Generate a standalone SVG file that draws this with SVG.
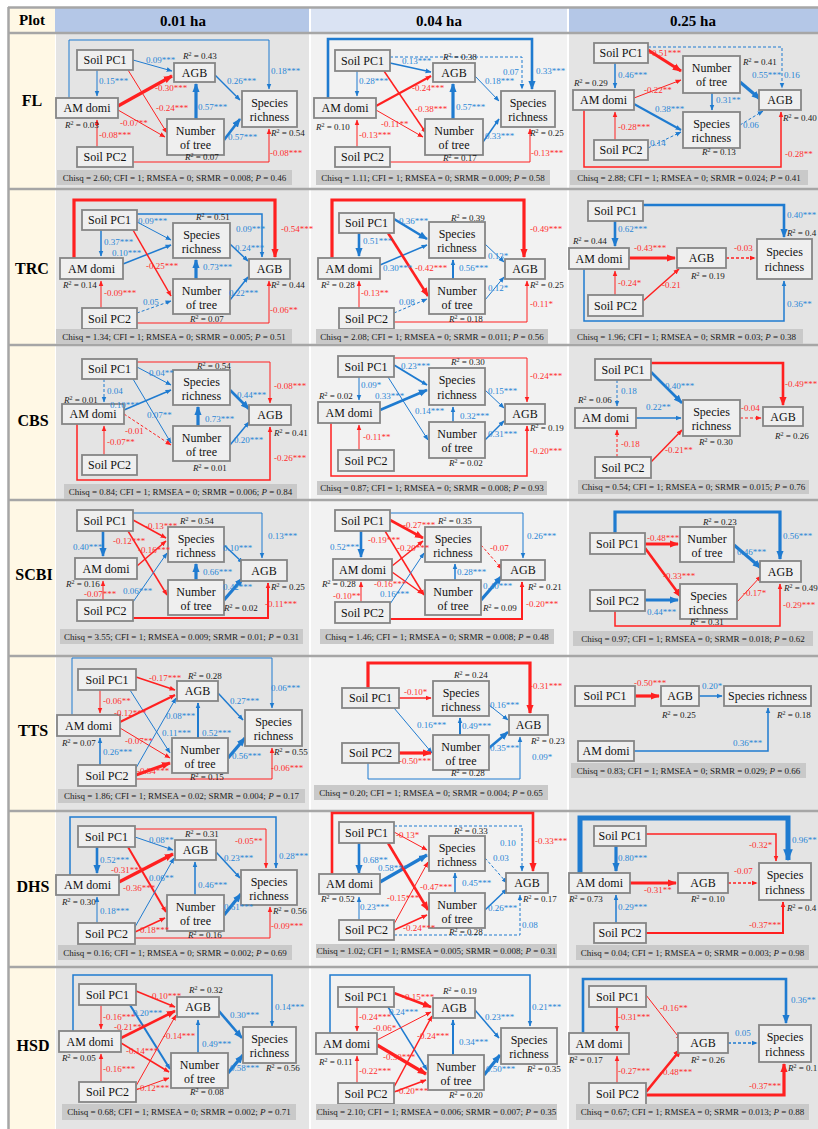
<svg xmlns="http://www.w3.org/2000/svg" width="818" height="1129" viewBox="0 0 818 1129">
<defs>
<style>
text{font-family:"Liberation Serif","Times New Roman",serif}
.bx{fill:#EFEFEF;stroke:#858585;stroke-width:1.8}
.nt{font-size:12px;text-anchor:middle;fill:#111}
.lb{font-size:9px}
.b{fill:#2A86D6}.r{fill:#FF2E2E}
.rs{font-size:9px;fill:#1a1a1a}
.cqb{fill:#C9C9C9}
.cq{font-size:9px;text-anchor:middle;fill:#1a1a1a}
.i{font-style:italic}.sp{font-size:6px}
.eb{fill:none;stroke:#1F7BD0;marker-end:url(#ab)}
.er{fill:none;stroke:#FF2020;marker-end:url(#ar)}
.eb.L{marker-end:url(#abL)}.er.L{marker-end:url(#arL)}.eb.X{marker-end:url(#abX)}
.d{stroke-dasharray:3 2}
.w1{stroke-width:1}.w15{stroke-width:1.5}.w2{stroke-width:2}.w25{stroke-width:2.6}.w3{stroke-width:3.2}.w5{stroke-width:5}
.hd{font-size:15px;font-weight:bold;text-anchor:middle;fill:#000}
.rl{font-size:16px;font-weight:bold;text-anchor:middle;fill:#000}
.sep{stroke:#A6A6A6;stroke-width:2.5}
</style>
<marker id="ab" viewBox="0 0 10 10" refX="9" refY="5" markerWidth="6" markerHeight="6" markerUnits="userSpaceOnUse" orient="auto"><path d="M0,1L10,5L0,9z" fill="#1F7BD0"/></marker>
<marker id="ar" viewBox="0 0 10 10" refX="9" refY="5" markerWidth="6" markerHeight="6" markerUnits="userSpaceOnUse" orient="auto"><path d="M0,1L10,5L0,9z" fill="#FF2020"/></marker>
<marker id="abL" viewBox="0 0 10 10" refX="9" refY="5" markerWidth="9" markerHeight="9" markerUnits="userSpaceOnUse" orient="auto"><path d="M0,1L10,5L0,9z" fill="#1F7BD0"/></marker>
<marker id="arL" viewBox="0 0 10 10" refX="9" refY="5" markerWidth="9" markerHeight="9" markerUnits="userSpaceOnUse" orient="auto"><path d="M0,1L10,5L0,9z" fill="#FF2020"/></marker>
<marker id="abX" viewBox="0 0 10 10" refX="9" refY="5" markerWidth="12" markerHeight="12" markerUnits="userSpaceOnUse" orient="auto"><path d="M0,1L10,5L0,9z" fill="#1F7BD0"/></marker>
</defs>

<g id="background">
<rect x="0" y="0" width="818" height="1129" fill="#FFFFFF"/>
<rect x="9" y="8" width="46" height="25" fill="#FFF8E5"/>
<rect x="55" y="8" width="254" height="25" fill="#B4C7E7"/>
<rect x="311" y="8" width="256" height="25" fill="#DAE3F3"/>
<rect x="569" y="8" width="249" height="25" fill="#B4C7E7"/>
<rect x="9" y="33" width="46" height="1096" fill="#FFF8E5"/>
<rect x="56" y="33" width="253" height="1096" fill="#E4E4E4"/>
<rect x="311" y="33" width="256" height="1096" fill="#F2F2F2"/>
<rect x="569" y="33" width="249" height="1096" fill="#E4E4E4"/>
<line class="sep" x1="8" y1="7.5" x2="818" y2="7.5"/>
<line class="sep" x1="8.5" y1="7" x2="8.5" y2="1129"/>
<line class="sep" x1="8" y1="33" x2="818" y2="33"/>
<line class="sep" x1="8" y1="189" x2="818" y2="189"/>
<line class="sep" x1="8" y1="345" x2="818" y2="345"/>
<line class="sep" x1="8" y1="500" x2="818" y2="500"/>
<line class="sep" x1="8" y1="656" x2="818" y2="656"/>
<line class="sep" x1="8" y1="811" x2="818" y2="811"/>
<line class="sep" x1="8" y1="967" x2="818" y2="967"/>
</g>

<g id="header">
<text class="hd" x="32" y="25">Plot</text>
<text class="hd" x="183" y="26">0.01 ha</text>
<text class="hd" x="439" y="26">0.04 ha</text>
<text class="hd" x="693" y="26">0.25 ha</text>
</g>

<g id="row-labels">
<text class="rl" x="32" y="106">FL</text>
<text class="rl" x="32" y="274">TRC</text>
<text class="rl" x="33" y="426">CBS</text>
<text class="rl" x="34" y="580">SCBI</text>
<text class="rl" x="33" y="736">TTS</text>
<text class="rl" x="33" y="892">DHS</text>
<text class="rl" x="33" y="1051">HSD</text>
</g>

<g id="connectors">
<g id="c-FL1">
<path class="eb w1" d="M69,98V40H269V89"/>
<path class="eb w1" d="M133,60L172,71"/>
<path class="eb w1" d="M97,70V96"/>
<path class="er w1" d="M128,70L167,133"/>
<path class="er w3 L" d="M118,106L172,76"/>
<path class="er w1" d="M118,110L165,137"/>
<path class="eb w3 L" d="M196,119V84"/>
<path class="eb w15" d="M215,75L240,100"/>
<path class="eb w25 L" d="M224,140L240,119"/>
<path class="er w1" d="M97,147V120"/>
<path class="er w1" d="M133,162H269V129"/>
</g>
<g id="c-FL2">
<path class="eb w25 L" d="M328,98V39H532V89"/>
<path class="eb w1 d" d="M390,57H522V89"/>
<path class="eb w15" d="M390,63L431,72"/>
<path class="eb w1" d="M357,71V96"/>
<path class="er w15" d="M384,71L426,133"/>
<path class="er w2" d="M376,106L431,76"/>
<path class="er w1" d="M376,110L423,137"/>
<path class="eb w3 L" d="M453,119V84"/>
<path class="eb w1" d="M475,76L499,101"/>
<path class="eb w15" d="M483,142L499,119"/>
<path class="er w1" d="M357,147V120"/>
<path class="er w1" d="M390,162H530V129"/>
</g>
<g id="c-FL3">
<path class="eb w1 d" d="M648,47H782V88"/>
<path class="er w3 L" d="M648,50L681,71"/>
<path class="eb w15" d="M615,63V88"/>
<path class="er w1" d="M634,98L681,80"/>
<path class="eb w2" d="M634,104L681,130"/>
<path class="eb w3 L" d="M740,82L760,99"/>
<path class="eb w15" d="M712,93V110"/>
<path class="eb w1 d" d="M740,125L763,111"/>
<path class="er w1" d="M615,140V112"/>
<path class="eb w1 d" d="M648,148L681,132"/>
<path class="er w15" d="M584,110V167H781V112"/>
</g>
<g id="c-TRC1">
<path class="er w3 L" d="M74,258V200H275V257"/>
<path class="eb w15" d="M137,214H262V257"/>
<path class="eb w1" d="M137,222L171,240"/>
<path class="eb w15" d="M101,230V256"/>
<path class="eb w15" d="M123,264L171,245"/>
<path class="er w15" d="M133,230L171,296"/>
<path class="eb w3 L" d="M196,279V260"/>
<path class="eb w15" d="M230,244L248,261"/>
<path class="eb w15" d="M230,300L248,277"/>
<path class="er w1" d="M101,308V281"/>
<path class="eb w1 d" d="M137,313L171,301"/>
<path class="er w1" d="M137,323H269V281"/>
</g>
<g id="c-TRC2">
<path class="er w3 L" d="M332,258V200H524V257"/>
<path class="eb w25 L" d="M394,219L427,239"/>
<path class="eb w25 L" d="M359,233V256"/>
<path class="eb w15" d="M380,265L427,245"/>
<path class="er w25 L" d="M388,233L428,296"/>
<path class="eb w2" d="M453,279V260"/>
<path class="eb w1" d="M485,244L504,262"/>
<path class="eb w1" d="M485,300L504,277"/>
<path class="er w1" d="M359,308V281"/>
<path class="eb w1 d" d="M394,313L427,299"/>
<path class="er w1" d="M394,322H527V281"/>
</g>
<g id="c-TRC3">
<path class="eb w25 L" d="M643,205H784V237"/>
<path class="eb w25 L" d="M615,221V246"/>
<path class="er w3 L" d="M629,258H675"/>
<path class="er w15 d" d="M726,258H755"/>
<path class="er w1" d="M615,295V271"/>
<path class="er w15" d="M643,301L679,269"/>
<path class="eb w15" d="M584,269V321H784V281"/>
</g>
<g id="c-CBS1">
<path class="er w1" d="M137,362H270V403"/>
<path class="eb w1" d="M137,367L171,385"/>
<path class="eb w1 d" d="M104,379V402"/>
<path class="eb w15" d="M124,410L171,390"/>
<path class="eb w1" d="M133,379L171,443"/>
<path class="er w1 d" d="M124,414L171,445"/>
<path class="eb w3 L" d="M198,426V407"/>
<path class="eb w25 L" d="M230,390L249,409"/>
<path class="eb w15" d="M230,445L249,422"/>
<path class="er w1" d="M104,455V426"/>
<path class="er w15" d="M77,424V480H270V427"/>
</g>
<g id="c-CBS2">
<path class="er w1" d="M394,358H527V402"/>
<path class="eb w2" d="M394,365L427,385"/>
<path class="eb w1" d="M359,377V400"/>
<path class="eb w25 L" d="M380,410L427,390"/>
<path class="eb w1" d="M388,377L428,440"/>
<path class="eb w15" d="M453,422V407"/>
<path class="eb w1" d="M485,390L504,408"/>
<path class="eb w15" d="M485,440L504,421"/>
<path class="er w1" d="M359,450V425"/>
<path class="er w15" d="M331,423V476H527V426"/>
</g>
<g id="c-CBS3">
<path class="er w25 L" d="M651,363H783V405"/>
<path class="eb w25 L" d="M651,372L682,403"/>
<path class="eb w1 d" d="M617,380V406"/>
<path class="eb w15" d="M636,418H681"/>
<path class="er w1 d" d="M740,418H761"/>
<path class="er w1 d" d="M617,457V430"/>
<path class="er w15" d="M651,462L682,430"/>
</g>
<g id="c-SCBI1">
<path class="eb w1" d="M133,513H262V558"/>
<path class="er w15" d="M133,520L166,538"/>
<path class="er w15" d="M128,531L167,595"/>
<path class="eb w25 L" d="M103,531V556"/>
<path class="er w15" d="M137,566L166,541"/>
<path class="eb w1" d="M133,602L167,553"/>
<path class="eb w3 L" d="M196,580V564"/>
<path class="eb w15" d="M224,545L243,563"/>
<path class="eb w3 L" d="M224,600L243,578"/>
<path class="er w1" d="M103,600V581"/>
<path class="er w2" d="M133,618H268V583"/>
</g>
<g id="c-SCBI2">
<path class="eb w1" d="M390,513H523V558"/>
<path class="er w25 L" d="M390,520L423,538"/>
<path class="er w15" d="M385,531L424,595"/>
<path class="eb w25 L" d="M361,531V557"/>
<path class="er w15" d="M392,566L423,541"/>
<path class="er w15" d="M392,572L423,594"/>
<path class="eb w1" d="M390,604L424,553"/>
<path class="eb w15" d="M455,580V564"/>
<path class="er w1 d" d="M481,545L502,569"/>
<path class="eb w3 L" d="M481,600L502,576"/>
<path class="er w1" d="M361,602V582"/>
<path class="er w2" d="M390,619H522V582"/>
</g>
<g id="c-SCBI3">
<path class="eb w3 L" d="M615,533V512H780V559"/>
<path class="er w3 L" d="M645,544H678"/>
<path class="er w25 L" d="M645,548L681,597"/>
<path class="eb w3 L" d="M645,600H678"/>
<path class="eb w3 L" d="M734,545L761,568"/>
<path class="er w1" d="M737,602L761,576"/>
<path class="er w15" d="M615,611V626H780V584"/>
</g>
<g id="c-TTS1">
<path class="eb w1" d="M72,715V658H272V708"/>
<path class="er w15" d="M136,677L175,690"/>
<path class="er w1" d="M100,690V713"/>
<path class="eb w1" d="M130,690L170,753"/>
<path class="er w2" d="M120,722L175,695"/>
<path class="er w1" d="M120,728L170,758"/>
<path class="eb w1" d="M136,768L176,698"/>
<path class="er w3 L" d="M136,775L170,763"/>
<path class="eb w2" d="M198,738V703"/>
<path class="eb w15" d="M218,693L243,720"/>
<path class="eb w3 L" d="M228,758L245,738"/>
<path class="eb w15" d="M100,765V738"/>
<path class="er w1" d="M136,779H272V748"/>
</g>
<g id="c-TTS2">
<path class="er w3 L" d="M368,688V663H530V713"/>
<path class="er w15" d="M399,698H431"/>
<path class="eb w1" d="M394,708L432,753"/>
<path class="eb w2" d="M460,735V718"/>
<path class="eb w1" d="M489,705L508,720"/>
<path class="eb w25 L" d="M489,748L508,732"/>
<path class="er w3 L" d="M399,753H431"/>
<path class="eb w1" d="M368,763V779H520V737"/>
</g>
<g id="c-TTS3">
<path class="er w3 L" d="M635,696H659"/>
<path class="eb w15" d="M699,696H722"/>
<path class="eb w15" d="M634,751H768V708"/>
</g>
<g id="c-DHS1">
<path class="eb w15" d="M70,875V817H276V868"/>
<path class="er w1" d="M135,829H266V868"/>
<path class="eb w1" d="M135,837L173,850"/>
<path class="eb w25 L" d="M97,847V873"/>
<path class="er w2" d="M128,847L166,912"/>
<path class="er w3 L" d="M119,882L173,854"/>
<path class="eb w1" d="M135,927L174,858"/>
<path class="eb w15" d="M195,895V862"/>
<path class="eb w15" d="M216,852L240,878"/>
<path class="eb w3 L" d="M224,915L241,894"/>
<path class="eb w1" d="M97,923V897"/>
<path class="er w15" d="M135,932L165,918"/>
<path class="er w1" d="M135,938H270V907"/>
</g>
<g id="c-DHS2">
<path class="er w25 L" d="M332,875V813H533V871"/>
<path class="eb w1 d" d="M394,826H522V871"/>
<path class="er w1" d="M394,832L427,850"/>
<path class="eb w25 L" d="M359,843V873"/>
<path class="eb w3 L" d="M380,882L427,855"/>
<path class="er w25 L" d="M388,843L428,910"/>
<path class="er w1" d="M394,924L428,862"/>
<path class="er w15" d="M394,930L427,915"/>
<path class="eb w15" d="M455,893V873"/>
<path class="eb w1 d" d="M485,858L507,883"/>
<path class="eb w15" d="M485,910L507,889"/>
<path class="eb w1" d="M359,921V897"/>
<path class="eb w1 d" d="M394,935H520V895"/>
</g>
<g id="c-DHS3">
<path class="eb w5 X" d="M580,873V818H788V860"/>
<path class="er w15" d="M646,834H776V861"/>
<path class="eb w3 L" d="M616,846V871"/>
<path class="er w3 L" d="M630,883H676"/>
<path class="er w15 d" d="M728,883H757"/>
<path class="eb w15" d="M616,923V895"/>
<path class="er w2" d="M646,933H783V902"/>
</g>
<g id="c-HSD1">
<path class="eb w15" d="M73,1031V975H272V1026"/>
<path class="er w15" d="M136,991L175,1007"/>
<path class="er w1" d="M101,1005V1029"/>
<path class="eb w2" d="M130,1005L170,1069"/>
<path class="er w25 L" d="M121,1038L175,1011"/>
<path class="er w15" d="M121,1043L169,1072"/>
<path class="er w1" d="M136,1086L176,1015"/>
<path class="er w1" d="M136,1090L169,1078"/>
<path class="eb w15" d="M198,1053V1020"/>
<path class="eb w25 L" d="M218,1010L242,1038"/>
<path class="eb w3 L" d="M228,1073L243,1055"/>
<path class="er w1" d="M101,1082V1054"/>
</g>
<g id="c-HSD2">
<path class="eb w15" d="M330,1033V975H530V1026"/>
<path class="er w25 L" d="M394,993L431,1007"/>
<path class="er w1" d="M357,1007V1031"/>
<path class="eb w15" d="M388,1007L427,1070"/>
<path class="er w1" d="M377,1040L431,1012"/>
<path class="er w3 L" d="M377,1045L426,1074"/>
<path class="er w15" d="M394,1087L432,1016"/>
<path class="er w15" d="M394,1092L426,1080"/>
<path class="eb w2" d="M453,1055V1020"/>
<path class="eb w15" d="M475,1010L499,1038"/>
<path class="eb w3 L" d="M484,1075L500,1055"/>
<path class="er w1" d="M357,1083V1056"/>
</g>
<g id="c-HSD3">
<path class="eb w25 L" d="M583,1033V979H786V1023"/>
<path class="er w15" d="M617,1007V1031"/>
<path class="er w1" d="M646,995L681,1040"/>
<path class="eb w15 d" d="M728,1043H757"/>
<path class="er w1" d="M617,1083V1056"/>
<path class="er w25 L" d="M646,1092L681,1049"/>
<path class="er w3 L" d="M646,1095H784V1064"/>
</g>
</g>

<g id="nodes">
<g id="FL1-PC1"><rect class="bx" x="77" y="50" width="56" height="20"/><text class="nt" x="105" y="64">Soil PC1</text></g>
<g id="FL1-AGB"><rect class="bx" x="174" y="63" width="41" height="19"/><text class="nt" x="194.5" y="76.5">AGB</text></g>
<g id="FL1-AMD"><rect class="bx" x="56" y="98" width="62" height="20"/><text class="nt" x="87" y="112">AM domi</text></g>
<g id="FL1-SR"><rect class="bx" x="242" y="91" width="55" height="36"/><text class="nt" x="269.5" y="107">Species</text><text class="nt" x="269.5" y="121">richness</text></g>
<g id="FL1-NT"><rect class="bx" x="167" y="119" width="57" height="36"/><text class="nt" x="195.5" y="135">Number</text><text class="nt" x="195.5" y="149">of tree</text></g>
<g id="FL1-PC2"><rect class="bx" x="77" y="147" width="56" height="20"/><text class="nt" x="105" y="161">Soil PC2</text></g>

<g id="FL2-PC1"><rect class="bx" x="335" y="50" width="55" height="21"/><text class="nt" x="362.5" y="64.5">Soil PC1</text></g>
<g id="FL2-AGB"><rect class="bx" x="433" y="63" width="42" height="19"/><text class="nt" x="454" y="76.5">AGB</text></g>
<g id="FL2-AMD"><rect class="bx" x="314" y="98" width="62" height="20"/><text class="nt" x="345" y="112">AM domi</text></g>
<g id="FL2-SR"><rect class="bx" x="501" y="91" width="54" height="36"/><text class="nt" x="528" y="107">Species</text><text class="nt" x="528" y="121">richness</text></g>
<g id="FL2-NT"><rect class="bx" x="425" y="119" width="58" height="36"/><text class="nt" x="454" y="135">Number</text><text class="nt" x="454" y="149">of tree</text></g>
<g id="FL2-PC2"><rect class="bx" x="335" y="147" width="55" height="20"/><text class="nt" x="362.5" y="161">Soil PC2</text></g>

<g id="FL3-PC1"><rect class="bx" x="594" y="43" width="54" height="20"/><text class="nt" x="621" y="57">Soil PC1</text></g>
<g id="FL3-NT"><rect class="bx" x="683" y="56" width="57" height="37"/><text class="nt" x="711.5" y="72">Number</text><text class="nt" x="711.5" y="86">of tree</text></g>
<g id="FL3-AMD"><rect class="bx" x="573" y="90" width="61" height="20"/><text class="nt" x="603.5" y="104">AM domi</text></g>
<g id="FL3-AGB"><rect class="bx" x="759" y="90" width="42" height="20"/><text class="nt" x="780" y="104">AGB</text></g>
<g id="FL3-SR"><rect class="bx" x="683" y="112" width="57" height="36"/><text class="nt" x="711.5" y="128">Species</text><text class="nt" x="711.5" y="142">richness</text></g>
<g id="FL3-PC2"><rect class="bx" x="594" y="140" width="54" height="20"/><text class="nt" x="621" y="154">Soil PC2</text></g>

<g id="TRC1-PC1"><rect class="bx" x="82" y="210" width="55" height="20"/><text class="nt" x="109.5" y="224">Soil PC1</text></g>
<g id="TRC1-SR"><rect class="bx" x="173" y="223" width="57" height="35"/><text class="nt" x="201.5" y="238.5">Species</text><text class="nt" x="201.5" y="252.5">richness</text></g>
<g id="TRC1-AMD"><rect class="bx" x="60" y="258" width="63" height="21"/><text class="nt" x="91.5" y="272.5">AM domi</text></g>
<g id="TRC1-AGB"><rect class="bx" x="249" y="259" width="41" height="20"/><text class="nt" x="269.5" y="273">AGB</text></g>
<g id="TRC1-NT"><rect class="bx" x="173" y="279" width="57" height="35"/><text class="nt" x="201.5" y="294.5">Number</text><text class="nt" x="201.5" y="308.5">of tree</text></g>
<g id="TRC1-PC2"><rect class="bx" x="82" y="308" width="55" height="21"/><text class="nt" x="109.5" y="322.5">Soil PC2</text></g>

<g id="TRC2-PC1"><rect class="bx" x="339" y="213" width="55" height="20"/><text class="nt" x="366.5" y="227">Soil PC1</text></g>
<g id="TRC2-SR"><rect class="bx" x="429" y="222" width="56" height="36"/><text class="nt" x="457" y="238">Species</text><text class="nt" x="457" y="252">richness</text></g>
<g id="TRC2-AMD"><rect class="bx" x="318" y="258" width="62" height="21"/><text class="nt" x="349" y="272.5">AM domi</text></g>
<g id="TRC2-AGB"><rect class="bx" x="505" y="259" width="40" height="20"/><text class="nt" x="525" y="273">AGB</text></g>
<g id="TRC2-NT"><rect class="bx" x="429" y="279" width="56" height="35"/><text class="nt" x="457" y="294.5">Number</text><text class="nt" x="457" y="308.5">of tree</text></g>
<g id="TRC2-PC2"><rect class="bx" x="339" y="308" width="55" height="21"/><text class="nt" x="366.5" y="322.5">Soil PC2</text></g>

<g id="TRC3-PC1"><rect class="bx" x="588" y="201" width="55" height="20"/><text class="nt" x="615.5" y="215">Soil PC1</text></g>
<g id="TRC3-AMD"><rect class="bx" x="569" y="248" width="60" height="21"/><text class="nt" x="599" y="262.5">AM domi</text></g>
<g id="TRC3-AGB"><rect class="bx" x="677" y="248" width="49" height="20"/><text class="nt" x="701.5" y="262">AGB</text></g>
<g id="TRC3-SR"><rect class="bx" x="757" y="239" width="55" height="40"/><text class="nt" x="784.5" y="256">Species</text><text class="nt" x="784.5" y="271">richness</text></g>
<g id="TRC3-PC2"><rect class="bx" x="588" y="295" width="55" height="21"/><text class="nt" x="615.5" y="309.5">Soil PC2</text></g>

<g id="CBS1-PC1"><rect class="bx" x="82" y="359" width="55" height="20"/><text class="nt" x="109.5" y="373">Soil PC1</text></g>
<g id="CBS1-SR"><rect class="bx" x="173" y="370" width="57" height="35"/><text class="nt" x="201.5" y="385.5">Species</text><text class="nt" x="201.5" y="399.5">richness</text></g>
<g id="CBS1-AMD"><rect class="bx" x="62" y="404" width="62" height="20"/><text class="nt" x="93" y="418">AM domi</text></g>
<g id="CBS1-AGB"><rect class="bx" x="249" y="405" width="42" height="20"/><text class="nt" x="270" y="419">AGB</text></g>
<g id="CBS1-NT"><rect class="bx" x="173" y="426" width="57" height="35"/><text class="nt" x="201.5" y="441.5">Number</text><text class="nt" x="201.5" y="455.5">of tree</text></g>
<g id="CBS1-PC2"><rect class="bx" x="82" y="455" width="55" height="20"/><text class="nt" x="109.5" y="469">Soil PC2</text></g>

<g id="CBS2-PC1"><rect class="bx" x="338" y="356" width="56" height="21"/><text class="nt" x="366" y="370.5">Soil PC1</text></g>
<g id="CBS2-SR"><rect class="bx" x="429" y="368" width="56" height="37"/><text class="nt" x="457" y="384">Species</text><text class="nt" x="457" y="399">richness</text></g>
<g id="CBS2-AMD"><rect class="bx" x="318" y="402" width="62" height="21"/><text class="nt" x="349" y="416.5">AM domi</text></g>
<g id="CBS2-AGB"><rect class="bx" x="505" y="404" width="40" height="20"/><text class="nt" x="525" y="418">AGB</text></g>
<g id="CBS2-NT"><rect class="bx" x="429" y="422" width="56" height="36"/><text class="nt" x="457" y="438">Number</text><text class="nt" x="457" y="452">of tree</text></g>
<g id="CBS2-PC2"><rect class="bx" x="338" y="450" width="56" height="21"/><text class="nt" x="366" y="464.5">Soil PC2</text></g>

<g id="CBS3-PC1"><rect class="bx" x="595" y="359" width="56" height="21"/><text class="nt" x="623" y="373.5">Soil PC1</text></g>
<g id="CBS3-AMD"><rect class="bx" x="575" y="408" width="61" height="20"/><text class="nt" x="605.5" y="422">AM domi</text></g>
<g id="CBS3-SR"><rect class="bx" x="683" y="400" width="57" height="36"/><text class="nt" x="711.5" y="416">Species</text><text class="nt" x="711.5" y="430">richness</text></g>
<g id="CBS3-AGB"><rect class="bx" x="763" y="407" width="40" height="19"/><text class="nt" x="783" y="420.5">AGB</text></g>
<g id="CBS3-PC2"><rect class="bx" x="595" y="457" width="56" height="21"/><text class="nt" x="623" y="471.5">Soil PC2</text></g>

<g id="SCBI1-PC1"><rect class="bx" x="77" y="510" width="56" height="21"/><text class="nt" x="105" y="524.5">Soil PC1</text></g>
<g id="SCBI1-SR"><rect class="bx" x="168" y="527" width="56" height="35"/><text class="nt" x="196" y="542.5">Species</text><text class="nt" x="196" y="556.5">richness</text></g>
<g id="SCBI1-AMD"><rect class="bx" x="75" y="558" width="62" height="21"/><text class="nt" x="106" y="572.5">AM domi</text></g>
<g id="SCBI1-AGB"><rect class="bx" x="241" y="560" width="46" height="21"/><text class="nt" x="264" y="574.5">AGB</text></g>
<g id="SCBI1-NT"><rect class="bx" x="168" y="580" width="56" height="35"/><text class="nt" x="196" y="595.5">Number</text><text class="nt" x="196" y="609.5">of tree</text></g>
<g id="SCBI1-PC2"><rect class="bx" x="77" y="600" width="56" height="21"/><text class="nt" x="105" y="614.5">Soil PC2</text></g>

<g id="SCBI2-PC1"><rect class="bx" x="335" y="510" width="55" height="21"/><text class="nt" x="362.5" y="524.5">Soil PC1</text></g>
<g id="SCBI2-SR"><rect class="bx" x="425" y="527" width="56" height="35"/><text class="nt" x="453" y="542.5">Species</text><text class="nt" x="453" y="556.5">richness</text></g>
<g id="SCBI2-AMD"><rect class="bx" x="333" y="559" width="59" height="21"/><text class="nt" x="362.5" y="573.5">AM domi</text></g>
<g id="SCBI2-AGB"><rect class="bx" x="501" y="560" width="44" height="20"/><text class="nt" x="523" y="574">AGB</text></g>
<g id="SCBI2-NT"><rect class="bx" x="425" y="580" width="56" height="35"/><text class="nt" x="453" y="595.5">Number</text><text class="nt" x="453" y="609.5">of tree</text></g>
<g id="SCBI2-PC2"><rect class="bx" x="335" y="602" width="55" height="21"/><text class="nt" x="362.5" y="616.5">Soil PC2</text></g>

<g id="SCBI3-PC1"><rect class="bx" x="590" y="533" width="55" height="21"/><text class="nt" x="617.5" y="547.5">Soil PC1</text></g>
<g id="SCBI3-NT"><rect class="bx" x="680" y="527" width="54" height="35"/><text class="nt" x="707" y="542.5">Number</text><text class="nt" x="707" y="556.5">of tree</text></g>
<g id="SCBI3-AGB"><rect class="bx" x="760" y="561" width="41" height="21"/><text class="nt" x="780.5" y="575.5">AGB</text></g>
<g id="SCBI3-PC2"><rect class="bx" x="590" y="590" width="55" height="21"/><text class="nt" x="617.5" y="604.5">Soil PC2</text></g>
<g id="SCBI3-SR"><rect class="bx" x="680" y="584" width="57" height="35"/><text class="nt" x="708.5" y="599.5">Species</text><text class="nt" x="708.5" y="613.5">richness</text></g>

<g id="TTS1-PC1"><rect class="bx" x="78" y="669" width="58" height="21"/><text class="nt" x="107" y="683.5">Soil PC1</text></g>
<g id="TTS1-AGB"><rect class="bx" x="177" y="681" width="41" height="20"/><text class="nt" x="197.5" y="695">AGB</text></g>
<g id="TTS1-AMD"><rect class="bx" x="57" y="715" width="63" height="21"/><text class="nt" x="88.5" y="729.5">AM domi</text></g>
<g id="TTS1-SR"><rect class="bx" x="245" y="710" width="57" height="36"/><text class="nt" x="273.5" y="726">Species</text><text class="nt" x="273.5" y="740">richness</text></g>
<g id="TTS1-NT"><rect class="bx" x="172" y="738" width="56" height="35"/><text class="nt" x="200" y="753.5">Number</text><text class="nt" x="200" y="767.5">of tree</text></g>
<g id="TTS1-PC2"><rect class="bx" x="78" y="765" width="58" height="21"/><text class="nt" x="107" y="779.5">Soil PC2</text></g>

<g id="TTS2-PC1"><rect class="bx" x="342" y="688" width="57" height="20"/><text class="nt" x="370.5" y="702">Soil PC1</text></g>
<g id="TTS2-SR"><rect class="bx" x="433" y="681" width="56" height="35"/><text class="nt" x="461" y="696.5">Species</text><text class="nt" x="461" y="710.5">richness</text></g>
<g id="TTS2-AGB"><rect class="bx" x="509" y="715" width="39" height="20"/><text class="nt" x="528.5" y="729">AGB</text></g>
<g id="TTS2-PC2"><rect class="bx" x="342" y="743" width="57" height="20"/><text class="nt" x="370.5" y="757">Soil PC2</text></g>
<g id="TTS2-NT"><rect class="bx" x="433" y="735" width="56" height="35"/><text class="nt" x="461" y="750.5">Number</text><text class="nt" x="461" y="764.5">of tree</text></g>

<g id="TTS3-PC1"><rect class="bx" x="575" y="686" width="60" height="20"/><text class="nt" x="605" y="700">Soil PC1</text></g>
<g id="TTS3-AGB"><rect class="bx" x="661" y="686" width="38" height="20"/><text class="nt" x="680" y="700">AGB</text></g>
<g id="TTS3-SR"><rect class="bx" x="724" y="686" width="87" height="20"/><text class="nt" x="767.5" y="700">Species richness</text></g>
<g id="TTS3-AMD"><rect class="bx" x="578" y="741" width="56" height="20"/><text class="nt" x="606" y="755">AM domi</text></g>

<g id="DHS1-PC1"><rect class="bx" x="78" y="826" width="57" height="21"/><text class="nt" x="106.5" y="840.5">Soil PC1</text></g>
<g id="DHS1-AGB"><rect class="bx" x="175" y="840" width="41" height="20"/><text class="nt" x="195.5" y="854">AGB</text></g>
<g id="DHS1-AMD"><rect class="bx" x="56" y="875" width="63" height="20"/><text class="nt" x="87.5" y="889">AM domi</text></g>
<g id="DHS1-SR"><rect class="bx" x="241" y="870" width="56" height="35"/><text class="nt" x="269" y="885.5">Species</text><text class="nt" x="269" y="899.5">richness</text></g>
<g id="DHS1-NT"><rect class="bx" x="167" y="895" width="57" height="36"/><text class="nt" x="195.5" y="911">Number</text><text class="nt" x="195.5" y="925">of tree</text></g>
<g id="DHS1-PC2"><rect class="bx" x="78" y="923" width="57" height="21"/><text class="nt" x="106.5" y="937.5">Soil PC2</text></g>

<g id="DHS2-PC1"><rect class="bx" x="339" y="822" width="55" height="21"/><text class="nt" x="366.5" y="836.5">Soil PC1</text></g>
<g id="DHS2-SR"><rect class="bx" x="429" y="836" width="56" height="35"/><text class="nt" x="457" y="851.5">Species</text><text class="nt" x="457" y="865.5">richness</text></g>
<g id="DHS2-AMD"><rect class="bx" x="319" y="874" width="61" height="20"/><text class="nt" x="349.5" y="888">AM domi</text></g>
<g id="DHS2-AGB"><rect class="bx" x="506" y="873" width="42" height="20"/><text class="nt" x="527" y="887">AGB</text></g>
<g id="DHS2-NT"><rect class="bx" x="429" y="893" width="56" height="35"/><text class="nt" x="457" y="908.5">Number</text><text class="nt" x="457" y="922.5">of tree</text></g>
<g id="DHS2-PC2"><rect class="bx" x="339" y="920" width="55" height="20"/><text class="nt" x="366.5" y="934">Soil PC2</text></g>

<g id="DHS3-PC1"><rect class="bx" x="594" y="826" width="52" height="20"/><text class="nt" x="620" y="840">Soil PC1</text></g>
<g id="DHS3-AMD"><rect class="bx" x="569" y="873" width="61" height="20"/><text class="nt" x="599.5" y="887">AM domi</text></g>
<g id="DHS3-AGB"><rect class="bx" x="678" y="873" width="50" height="20"/><text class="nt" x="703" y="887">AGB</text></g>
<g id="DHS3-SR"><rect class="bx" x="759" y="863" width="52" height="37"/><text class="nt" x="785" y="879">Species</text><text class="nt" x="785" y="894">richness</text></g>
<g id="DHS3-PC2"><rect class="bx" x="594" y="923" width="52" height="20"/><text class="nt" x="620" y="937">Soil PC2</text></g>

<g id="HSD1-PC1"><rect class="bx" x="79" y="984" width="57" height="21"/><text class="nt" x="107.5" y="998.5">Soil PC1</text></g>
<g id="HSD1-AGB"><rect class="bx" x="177" y="997" width="42" height="20"/><text class="nt" x="198" y="1011">AGB</text></g>
<g id="HSD1-AMD"><rect class="bx" x="59" y="1031" width="62" height="21"/><text class="nt" x="90" y="1045.5">AM domi</text></g>
<g id="HSD1-SR"><rect class="bx" x="243" y="1027" width="53" height="36"/><text class="nt" x="269.5" y="1043">Species</text><text class="nt" x="269.5" y="1057">richness</text></g>
<g id="HSD1-NT"><rect class="bx" x="171" y="1053" width="57" height="35"/><text class="nt" x="199.5" y="1068.5">Number</text><text class="nt" x="199.5" y="1082.5">of tree</text></g>
<g id="HSD1-PC2"><rect class="bx" x="79" y="1082" width="57" height="20"/><text class="nt" x="107.5" y="1096">Soil PC2</text></g>

<g id="HSD2-PC1"><rect class="bx" x="338" y="987" width="56" height="20"/><text class="nt" x="366" y="1001">Soil PC1</text></g>
<g id="HSD2-AGB"><rect class="bx" x="433" y="998" width="42" height="20"/><text class="nt" x="454" y="1012">AGB</text></g>
<g id="HSD2-AMD"><rect class="bx" x="316" y="1033" width="61" height="21"/><text class="nt" x="346.5" y="1047.5">AM domi</text></g>
<g id="HSD2-SR"><rect class="bx" x="501" y="1028" width="56" height="36"/><text class="nt" x="529" y="1044">Species</text><text class="nt" x="529" y="1058">richness</text></g>
<g id="HSD2-NT"><rect class="bx" x="428" y="1055" width="56" height="35"/><text class="nt" x="456" y="1070.5">Number</text><text class="nt" x="456" y="1084.5">of tree</text></g>
<g id="HSD2-PC2"><rect class="bx" x="338" y="1083" width="56" height="21"/><text class="nt" x="366" y="1097.5">Soil PC2</text></g>

<g id="HSD3-PC1"><rect class="bx" x="589" y="986" width="57" height="21"/><text class="nt" x="617.5" y="1000.5">Soil PC1</text></g>
<g id="HSD3-AMD"><rect class="bx" x="569" y="1033" width="60" height="21"/><text class="nt" x="599" y="1047.5">AM domi</text></g>
<g id="HSD3-AGB"><rect class="bx" x="678" y="1033" width="50" height="20"/><text class="nt" x="703" y="1047">AGB</text></g>
<g id="HSD3-SR"><rect class="bx" x="759" y="1025" width="52" height="37"/><text class="nt" x="785" y="1041">Species</text><text class="nt" x="785" y="1056">richness</text></g>
<g id="HSD3-PC2"><rect class="bx" x="589" y="1083" width="57" height="22"/><text class="nt" x="617.5" y="1098">Soil PC2</text></g>
</g>

<g id="edge-labels">
<text class="lb b" x="271" y="74">0.18***</text><text class="lb b" x="146" y="63">0.09***</text><text class="lb b" x="99" y="84">0.15***</text><text class="lb r" x="156" y="111">-0.24***</text><text class="lb r" x="155" y="91">-0.30***</text><text class="lb r" x="120" y="126">-0.07**</text><text class="lb b" x="198" y="110">0.57***</text><text class="lb b" x="227" y="84">0.26***</text><text class="lb b" x="228" y="140">0.57***</text><text class="lb r" x="99" y="138">-0.08***</text><text class="lb r" x="270" y="156">-0.08***</text>

<text class="lb b" x="536" y="74">0.33***</text><text class="lb b" x="503" y="75">0.07</text><text class="lb b" x="402" y="64">0.13***</text><text class="lb b" x="359" y="84">0.28***</text><text class="lb r" x="415" y="112">-0.38***</text><text class="lb r" x="412" y="91">-0.24***</text><text class="lb r" x="381" y="127">-0.11**</text><text class="lb b" x="456" y="110">0.57***</text><text class="lb b" x="485" y="84">0.18***</text><text class="lb b" x="485" y="139">0.33***</text><text class="lb r" x="359" y="138">-0.13***</text><text class="lb r" x="531" y="156">-0.13***</text>

<text class="lb b" x="784" y="78">0.16</text><text class="lb r" x="649" y="56">-0.51***</text><text class="lb b" x="618" y="78">0.46***</text><text class="lb r" x="644" y="93">-0.22**</text><text class="lb b" x="655" y="112">0.38***</text><text class="lb b" x="752" y="78">0.55***</text><text class="lb b" x="716" y="103">0.31**</text><text class="lb b" x="743" y="128">0.06</text><text class="lb r" x="618" y="130">-0.28***</text><text class="lb b" x="650" y="146">0.14</text><text class="lb r" x="785" y="157">-0.28**</text>

<text class="lb r" x="281" y="232">-0.54***</text><text class="lb b" x="236" y="232">0.09***</text><text class="lb b" x="138" y="224">0.09***</text><text class="lb b" x="104" y="245">0.37***</text><text class="lb b" x="112" y="256">0.10***</text><text class="lb r" x="146" y="269">-0.25***</text><text class="lb b" x="203" y="270">0.73***</text><text class="lb b" x="235" y="251">0.24***</text><text class="lb b" x="229" y="296">0.22***</text><text class="lb r" x="104" y="296">-0.09***</text><text class="lb b" x="143" y="305">0.05</text><text class="lb r" x="270" y="313">-0.06**</text>

<text class="lb r" x="530" y="232">-0.49***</text><text class="lb b" x="399" y="224">0.36***</text><text class="lb b" x="363" y="244">0.51***</text><text class="lb b" x="383" y="271">0.30***</text><text class="lb r" x="415" y="271">-0.42***</text><text class="lb b" x="459" y="271">0.56***</text><text class="lb b" x="488" y="259">0.13*</text><text class="lb b" x="488" y="291">0.12*</text><text class="lb r" x="361" y="296">-0.13**</text><text class="lb b" x="399" y="305">0.08</text><text class="lb r" x="530" y="307">-0.11*</text>

<text class="lb b" x="787" y="218">0.40***</text><text class="lb b" x="618" y="232">0.62***</text><text class="lb r" x="634" y="251">-0.43***</text><text class="lb r" x="734" y="251">-0.03</text><text class="lb r" x="618" y="286">-0.24*</text><text class="lb r" x="662" y="288">-0.21</text><text class="lb b" x="787" y="307">0.36**</text>

<text class="lb r" x="274" y="389">-0.08***</text><text class="lb b" x="149" y="376">0.04**</text><text class="lb b" x="107" y="394">0.04</text><text class="lb b" x="110" y="408">0.10***</text><text class="lb b" x="147" y="418">0.07**</text><text class="lb r" x="125" y="434">-0.01</text><text class="lb b" x="205" y="422">0.73***</text><text class="lb b" x="237" y="398">0.44***</text><text class="lb b" x="234" y="443">0.20***</text><text class="lb r" x="107" y="445">-0.07**</text><text class="lb r" x="274" y="461">-0.26***</text>

<text class="lb r" x="530" y="379">-0.24***</text><text class="lb b" x="401" y="369">0.23***</text><text class="lb b" x="361" y="388">0.09*</text><text class="lb b" x="375" y="399">0.33***</text><text class="lb b" x="415" y="414">0.14***</text><text class="lb b" x="460" y="419">0.32***</text><text class="lb b" x="488" y="394">0.15***</text><text class="lb b" x="488" y="437">0.31***</text><text class="lb r" x="363" y="440">-0.11**</text><text class="lb r" x="530" y="454">-0.20***</text>

<text class="lb r" x="785" y="387">-0.49***</text><text class="lb b" x="665" y="389">0.40***</text><text class="lb b" x="621" y="394">0.18</text><text class="lb b" x="646" y="410">0.22**</text><text class="lb r" x="741" y="411">-0.04</text><text class="lb r" x="621" y="447">-0.18</text><text class="lb r" x="665" y="453">-0.21**</text>

<text class="lb b" x="268" y="539">0.13***</text><text class="lb r" x="145" y="529">-0.13***</text><text class="lb r" x="138" y="553">-0.16***</text><text class="lb b" x="73" y="550">0.40***</text><text class="lb r" x="113" y="544">-0.12***</text><text class="lb b" x="123" y="594">0.06***</text><text class="lb b" x="203" y="575">0.66***</text><text class="lb b" x="223" y="551">0.10***</text><text class="lb b" x="223" y="590">0.42***</text><text class="lb r" x="84" y="597">-0.07***</text><text class="lb r" x="265" y="607">-0.11***</text>

<text class="lb b" x="527" y="539">0.26***</text><text class="lb r" x="403" y="528">-0.27***</text><text class="lb r" x="397" y="551">-0.20***</text><text class="lb b" x="330" y="550">0.52***</text><text class="lb r" x="368" y="543">-0.19***</text><text class="lb r" x="374" y="587">-0.16***</text><text class="lb b" x="380" y="597">0.16***</text><text class="lb b" x="457" y="575">0.28***</text><text class="lb r" x="490" y="551">-0.07</text><text class="lb b" x="483" y="589">0.40***</text><text class="lb r" x="333" y="599">-0.10**</text><text class="lb r" x="526" y="607">-0.20***</text>

<text class="lb b" x="783" y="539">0.56***</text><text class="lb r" x="647" y="541">-0.48***</text><text class="lb r" x="663" y="579">-0.33***</text><text class="lb b" x="647" y="615">0.44***</text><text class="lb b" x="737" y="555">0.46***</text><text class="lb r" x="743" y="596">-0.17*</text><text class="lb r" x="783" y="608">-0.29***</text>

<text class="lb b" x="271" y="691">0.06***</text><text class="lb r" x="149" y="681">-0.17***</text><text class="lb r" x="103" y="704">-0.06**</text><text class="lb b" x="162" y="736">0.11***</text><text class="lb r" x="114" y="716">-0.12***</text><text class="lb r" x="125" y="744">-0.07**</text><text class="lb b" x="166" y="719">0.08***</text><text class="lb r" x="137" y="774">-0.34***</text><text class="lb b" x="202" y="736">0.52***</text><text class="lb b" x="230" y="704">0.27***</text><text class="lb b" x="232" y="759">0.56***</text><text class="lb b" x="103" y="755">0.26***</text><text class="lb r" x="271" y="771">-0.06***</text>

<text class="lb r" x="530" y="689">-0.31***</text><text class="lb r" x="404" y="695">-0.10*</text><text class="lb b" x="417" y="728">0.16***</text><text class="lb b" x="462" y="729">0.49***</text><text class="lb b" x="490" y="708">0.16***</text><text class="lb b" x="490" y="751">0.35***</text><text class="lb r" x="399" y="764">-0.50***</text><text class="lb b" x="532" y="760">0.09*</text>

<text class="lb r" x="634" y="686">-0.50***</text><text class="lb b" x="702" y="689">0.20*</text><text class="lb b" x="733" y="746">0.36***</text>

<text class="lb b" x="279" y="859">0.28***</text><text class="lb r" x="235" y="844">-0.05**</text><text class="lb b" x="149" y="843">0.08**</text><text class="lb b" x="100" y="863">0.52***</text><text class="lb r" x="123" y="891">-0.36***</text><text class="lb r" x="111" y="873">-0.31***</text><text class="lb b" x="149" y="881">0.06**</text><text class="lb b" x="198" y="888">0.46***</text><text class="lb b" x="224" y="861">0.23***</text><text class="lb b" x="224" y="910">0.61***</text><text class="lb b" x="100" y="914">0.18***</text><text class="lb r" x="137" y="933">-0.18***</text><text class="lb r" x="271" y="929">-0.09***</text>

<text class="lb r" x="535" y="844">-0.33***</text><text class="lb b" x="500" y="846">0.10</text><text class="lb r" x="396" y="838">-0.13*</text><text class="lb b" x="363" y="863">0.68**</text><text class="lb b" x="378" y="871">0.58***</text><text class="lb r" x="420" y="890">-0.47***</text><text class="lb r" x="387" y="901">-0.15***</text><text class="lb r" x="403" y="931">-0.24***</text><text class="lb b" x="462" y="886">0.45***</text><text class="lb b" x="493" y="861">0.03</text><text class="lb b" x="488" y="911">0.26***</text><text class="lb b" x="360" y="910">0.23***</text><text class="lb b" x="522" y="928">0.08</text>

<text class="lb b" x="792" y="843">0.96**</text><text class="lb r" x="749" y="848">-0.32*</text><text class="lb b" x="618" y="861">0.80***</text><text class="lb r" x="644" y="893">-0.31**</text><text class="lb r" x="734" y="874">-0.07</text><text class="lb b" x="618" y="910">0.29***</text><text class="lb r" x="749" y="928">-0.37***</text>

<text class="lb b" x="275" y="1010">0.14***</text><text class="lb r" x="149" y="999">-0.10***</text><text class="lb r" x="103" y="1020">-0.16***</text><text class="lb b" x="133" y="1016">0.20***</text><text class="lb r" x="114" y="1030">-0.21***</text><text class="lb r" x="126" y="1054">-0.14***</text><text class="lb r" x="163" y="1039">-0.14***</text><text class="lb r" x="137" y="1091">-0.12***</text><text class="lb b" x="202" y="1047">0.49***</text><text class="lb b" x="230" y="1018">0.30***</text><text class="lb b" x="230" y="1071">0.58***</text><text class="lb r" x="103" y="1072">-0.16***</text>

<text class="lb b" x="532" y="1010">0.21***</text><text class="lb r" x="402" y="1000">-0.15***</text><text class="lb r" x="359" y="1020">-0.24***</text><text class="lb b" x="389" y="1015">0.24***</text><text class="lb r" x="373" y="1031">-0.06*</text><text class="lb r" x="383" y="1060">-0.30***</text><text class="lb r" x="417" y="1039">-0.24***</text><text class="lb r" x="396" y="1094">-0.20***</text><text class="lb b" x="459" y="1045">0.34***</text><text class="lb b" x="485" y="1020">0.23***</text><text class="lb b" x="486" y="1072">0.50***</text><text class="lb r" x="359" y="1074">-0.22***</text>

<text class="lb b" x="791" y="1003">0.36**</text><text class="lb r" x="618" y="1020">-0.31***</text><text class="lb r" x="660" y="1011">-0.16**</text><text class="lb b" x="735" y="1036">0.05</text><text class="lb r" x="618" y="1074">-0.27***</text><text class="lb r" x="660" y="1075">-0.48***</text><text class="lb r" x="749" y="1089">-0.37***</text>
</g>

<g id="r2-labels">
<text class="rs" x="183" y="59"><tspan class="i">R</tspan><tspan class="sp" dy="-3">2</tspan><tspan dy="3"> = 0.43</tspan></text>
<text class="rs" x="65" y="128"><tspan class="i">R</tspan><tspan class="sp" dy="-3">2</tspan><tspan dy="3"> = 0.03</tspan></text>
<text class="rs" x="185" y="160"><tspan class="i">R</tspan><tspan class="sp" dy="-3">2</tspan><tspan dy="3"> = 0.07</tspan></text>
<text class="rs" x="271" y="136"><tspan class="i">R</tspan><tspan class="sp" dy="-3">2</tspan><tspan dy="3"> = 0.54</tspan></text>
<text class="rs" x="443" y="60"><tspan class="i">R</tspan><tspan class="sp" dy="-3">2</tspan><tspan dy="3"> = 0.38</tspan></text>
<text class="rs" x="316" y="130"><tspan class="i">R</tspan><tspan class="sp" dy="-3">2</tspan><tspan dy="3"> = 0.10</tspan></text>
<text class="rs" x="443" y="161"><tspan class="i">R</tspan><tspan class="sp" dy="-3">2</tspan><tspan dy="3"> = 0.17</tspan></text>
<text class="rs" x="530" y="136"><tspan class="i">R</tspan><tspan class="sp" dy="-3">2</tspan><tspan dy="3"> = 0.25</tspan></text>
<text class="rs" x="743" y="65"><tspan class="i">R</tspan><tspan class="sp" dy="-3">2</tspan><tspan dy="3"> = 0.41</tspan></text>
<text class="rs" x="574" y="86"><tspan class="i">R</tspan><tspan class="sp" dy="-3">2</tspan><tspan dy="3"> = 0.29</tspan></text>
<text class="rs" x="702" y="155"><tspan class="i">R</tspan><tspan class="sp" dy="-3">2</tspan><tspan dy="3"> = 0.13</tspan></text>
<text class="rs" x="783" y="121"><tspan class="i">R</tspan><tspan class="sp" dy="-3">2</tspan><tspan dy="3"> = 0.40</tspan></text>

<text class="rs" x="196" y="220"><tspan class="i">R</tspan><tspan class="sp" dy="-3">2</tspan><tspan dy="3"> = 0.51</tspan></text>
<text class="rs" x="63" y="288"><tspan class="i">R</tspan><tspan class="sp" dy="-3">2</tspan><tspan dy="3"> = 0.14</tspan></text>
<text class="rs" x="271" y="288"><tspan class="i">R</tspan><tspan class="sp" dy="-3">2</tspan><tspan dy="3"> = 0.44</tspan></text>
<text class="rs" x="190" y="322"><tspan class="i">R</tspan><tspan class="sp" dy="-3">2</tspan><tspan dy="3"> = 0.07</tspan></text>
<text class="rs" x="451" y="221"><tspan class="i">R</tspan><tspan class="sp" dy="-3">2</tspan><tspan dy="3"> = 0.39</tspan></text>
<text class="rs" x="321" y="288"><tspan class="i">R</tspan><tspan class="sp" dy="-3">2</tspan><tspan dy="3"> = 0.28</tspan></text>
<text class="rs" x="530" y="288"><tspan class="i">R</tspan><tspan class="sp" dy="-3">2</tspan><tspan dy="3"> = 0.25</tspan></text>
<text class="rs" x="449" y="322"><tspan class="i">R</tspan><tspan class="sp" dy="-3">2</tspan><tspan dy="3"> = 0.18</tspan></text>
<text class="rs" x="573" y="244"><tspan class="i">R</tspan><tspan class="sp" dy="-3">2</tspan><tspan dy="3"> = 0.44</tspan></text>
<text class="rs" x="691" y="279"><tspan class="i">R</tspan><tspan class="sp" dy="-3">2</tspan><tspan dy="3"> = 0.19</tspan></text>
<text class="rs" x="787" y="236"><tspan class="i">R</tspan><tspan class="sp" dy="-3">2</tspan><tspan dy="3"> = 0.4</tspan></text>

<text class="rs" x="197" y="369"><tspan class="i">R</tspan><tspan class="sp" dy="-3">2</tspan><tspan dy="3"> = 0.54</tspan></text>
<text class="rs" x="64" y="403"><tspan class="i">R</tspan><tspan class="sp" dy="-3">2</tspan><tspan dy="3"> = 0.01</tspan></text>
<text class="rs" x="274" y="436"><tspan class="i">R</tspan><tspan class="sp" dy="-3">2</tspan><tspan dy="3"> = 0.41</tspan></text>
<text class="rs" x="193" y="471"><tspan class="i">R</tspan><tspan class="sp" dy="-3">2</tspan><tspan dy="3"> = 0.01</tspan></text>
<text class="rs" x="451" y="365"><tspan class="i">R</tspan><tspan class="sp" dy="-3">2</tspan><tspan dy="3"> = 0.30</tspan></text>
<text class="rs" x="319" y="399"><tspan class="i">R</tspan><tspan class="sp" dy="-3">2</tspan><tspan dy="3"> = 0.02</tspan></text>
<text class="rs" x="530" y="431"><tspan class="i">R</tspan><tspan class="sp" dy="-3">2</tspan><tspan dy="3"> = 0.19</tspan></text>
<text class="rs" x="449" y="466"><tspan class="i">R</tspan><tspan class="sp" dy="-3">2</tspan><tspan dy="3"> = 0.02</tspan></text>
<text class="rs" x="578" y="403"><tspan class="i">R</tspan><tspan class="sp" dy="-3">2</tspan><tspan dy="3"> = 0.06</tspan></text>
<text class="rs" x="699" y="445"><tspan class="i">R</tspan><tspan class="sp" dy="-3">2</tspan><tspan dy="3"> = 0.30</tspan></text>
<text class="rs" x="775" y="439"><tspan class="i">R</tspan><tspan class="sp" dy="-3">2</tspan><tspan dy="3"> = 0.26</tspan></text>

<text class="rs" x="180" y="524"><tspan class="i">R</tspan><tspan class="sp" dy="-3">2</tspan><tspan dy="3"> = 0.54</tspan></text>
<text class="rs" x="66" y="587"><tspan class="i">R</tspan><tspan class="sp" dy="-3">2</tspan><tspan dy="3"> = 0.16</tspan></text>
<text class="rs" x="271" y="590"><tspan class="i">R</tspan><tspan class="sp" dy="-3">2</tspan><tspan dy="3"> = 0.25</tspan></text>
<text class="rs" x="224" y="611"><tspan class="i">R</tspan><tspan class="sp" dy="-3">2</tspan><tspan dy="3"> = 0.02</tspan></text>
<text class="rs" x="438" y="524"><tspan class="i">R</tspan><tspan class="sp" dy="-3">2</tspan><tspan dy="3"> = 0.35</tspan></text>
<text class="rs" x="322" y="587"><tspan class="i">R</tspan><tspan class="sp" dy="-3">2</tspan><tspan dy="3"> = 0.28</tspan></text>
<text class="rs" x="528" y="590"><tspan class="i">R</tspan><tspan class="sp" dy="-3">2</tspan><tspan dy="3"> = 0.21</tspan></text>
<text class="rs" x="483" y="611"><tspan class="i">R</tspan><tspan class="sp" dy="-3">2</tspan><tspan dy="3"> = 0.09</tspan></text>
<text class="rs" x="703" y="525"><tspan class="i">R</tspan><tspan class="sp" dy="-3">2</tspan><tspan dy="3"> = 0.23</tspan></text>
<text class="rs" x="784" y="591"><tspan class="i">R</tspan><tspan class="sp" dy="-3">2</tspan><tspan dy="3"> = 0.49</tspan></text>
<text class="rs" x="690" y="625"><tspan class="i">R</tspan><tspan class="sp" dy="-3">2</tspan><tspan dy="3"> = 0.31</tspan></text>

<text class="rs" x="188" y="679"><tspan class="i">R</tspan><tspan class="sp" dy="-3">2</tspan><tspan dy="3"> = 0.28</tspan></text>
<text class="rs" x="62" y="746"><tspan class="i">R</tspan><tspan class="sp" dy="-3">2</tspan><tspan dy="3"> = 0.07</tspan></text>
<text class="rs" x="274" y="755"><tspan class="i">R</tspan><tspan class="sp" dy="-3">2</tspan><tspan dy="3"> = 0.55</tspan></text>
<text class="rs" x="190" y="780"><tspan class="i">R</tspan><tspan class="sp" dy="-3">2</tspan><tspan dy="3"> = 0.15</tspan></text>
<text class="rs" x="454" y="678"><tspan class="i">R</tspan><tspan class="sp" dy="-3">2</tspan><tspan dy="3"> = 0.24</tspan></text>
<text class="rs" x="531" y="744"><tspan class="i">R</tspan><tspan class="sp" dy="-3">2</tspan><tspan dy="3"> = 0.23</tspan></text>
<text class="rs" x="451" y="776"><tspan class="i">R</tspan><tspan class="sp" dy="-3">2</tspan><tspan dy="3"> = 0.28</tspan></text>
<text class="rs" x="662" y="718"><tspan class="i">R</tspan><tspan class="sp" dy="-3">2</tspan><tspan dy="3"> = 0.25</tspan></text>
<text class="rs" x="777" y="718"><tspan class="i">R</tspan><tspan class="sp" dy="-3">2</tspan><tspan dy="3"> = 0.18</tspan></text>

<text class="rs" x="185" y="837"><tspan class="i">R</tspan><tspan class="sp" dy="-3">2</tspan><tspan dy="3"> = 0.31</tspan></text>
<text class="rs" x="62" y="905"><tspan class="i">R</tspan><tspan class="sp" dy="-3">2</tspan><tspan dy="3"> = 0.30</tspan></text>
<text class="rs" x="273" y="914"><tspan class="i">R</tspan><tspan class="sp" dy="-3">2</tspan><tspan dy="3"> = 0.56</tspan></text>
<text class="rs" x="188" y="938"><tspan class="i">R</tspan><tspan class="sp" dy="-3">2</tspan><tspan dy="3"> = 0.16</tspan></text>
<text class="rs" x="454" y="834"><tspan class="i">R</tspan><tspan class="sp" dy="-3">2</tspan><tspan dy="3"> = 0.33</tspan></text>
<text class="rs" x="321" y="902"><tspan class="i">R</tspan><tspan class="sp" dy="-3">2</tspan><tspan dy="3"> = 0.52</tspan></text>
<text class="rs" x="523" y="902"><tspan class="i">R</tspan><tspan class="sp" dy="-3">2</tspan><tspan dy="3"> = 0.17</tspan></text>
<text class="rs" x="449" y="935"><tspan class="i">R</tspan><tspan class="sp" dy="-3">2</tspan><tspan dy="3"> = 0.28</tspan></text>
<text class="rs" x="569" y="902"><tspan class="i">R</tspan><tspan class="sp" dy="-3">2</tspan><tspan dy="3"> = 0.73</tspan></text>
<text class="rs" x="691" y="902"><tspan class="i">R</tspan><tspan class="sp" dy="-3">2</tspan><tspan dy="3"> = 0.10</tspan></text>
<text class="rs" x="787" y="911"><tspan class="i">R</tspan><tspan class="sp" dy="-3">2</tspan><tspan dy="3"> = 0.4</tspan></text>

<text class="rs" x="189" y="993"><tspan class="i">R</tspan><tspan class="sp" dy="-3">2</tspan><tspan dy="3"> = 0.32</tspan></text>
<text class="rs" x="62" y="1061"><tspan class="i">R</tspan><tspan class="sp" dy="-3">2</tspan><tspan dy="3"> = 0.05</tspan></text>
<text class="rs" x="266" y="1071"><tspan class="i">R</tspan><tspan class="sp" dy="-3">2</tspan><tspan dy="3"> = 0.56</tspan></text>
<text class="rs" x="190" y="1095"><tspan class="i">R</tspan><tspan class="sp" dy="-3">2</tspan><tspan dy="3"> = 0.08</tspan></text>
<text class="rs" x="443" y="994"><tspan class="i">R</tspan><tspan class="sp" dy="-3">2</tspan><tspan dy="3"> = 0.19</tspan></text>
<text class="rs" x="319" y="1065"><tspan class="i">R</tspan><tspan class="sp" dy="-3">2</tspan><tspan dy="3"> = 0.11</tspan></text>
<text class="rs" x="527" y="1072"><tspan class="i">R</tspan><tspan class="sp" dy="-3">2</tspan><tspan dy="3"> = 0.35</tspan></text>
<text class="rs" x="449" y="1098"><tspan class="i">R</tspan><tspan class="sp" dy="-3">2</tspan><tspan dy="3"> = 0.20</tspan></text>
<text class="rs" x="569" y="1063"><tspan class="i">R</tspan><tspan class="sp" dy="-3">2</tspan><tspan dy="3"> = 0.17</tspan></text>
<text class="rs" x="691" y="1063"><tspan class="i">R</tspan><tspan class="sp" dy="-3">2</tspan><tspan dy="3"> = 0.26</tspan></text>
<text class="rs" x="788" y="1071"><tspan class="i">R</tspan><tspan class="sp" dy="-3">2</tspan><tspan dy="3"> = 0.1</tspan></text>
</g>

<g id="fit-stats">
<rect class="cqb" x="57" y="170" width="235" height="15"/><text class="cq" x="174.5" y="180.5">Chisq = 2.60; CFI = 1; RMSEA = 0; SRMR = 0.008; <tspan class="i">P</tspan> = 0.46</text>
<rect class="cqb" x="316" y="170" width="234" height="15"/><text class="cq" x="433" y="180.5">Chisq = 1.11; CFI = 1; RMSEA = 0; SRMR = 0.009; <tspan class="i">P</tspan> = 0.58</text>
<rect class="cqb" x="570" y="170" width="238" height="15"/><text class="cq" x="689" y="180.5">Chisq = 2.88; CFI = 1; RMSEA = 0; SRMR = 0.024; <tspan class="i">P</tspan> = 0.41</text>
<rect class="cqb" x="56" y="329" width="236" height="15"/><text class="cq" x="174" y="339.5">Chisq = 1.34; CFI = 1; RMSEA = 0; SRMR = 0.005; <tspan class="i">P</tspan> = 0.51</text>
<rect class="cqb" x="316" y="329" width="232" height="15"/><text class="cq" x="432" y="339.5">Chisq = 2.08; CFI = 1; RMSEA = 0; SRMR = 0.011; <tspan class="i">P</tspan> = 0.56</text>
<rect class="cqb" x="570" y="329" width="233" height="15"/><text class="cq" x="686.5" y="339.5">Chisq = 1.96; CFI = 1; RMSEA = 0; SRMR = 0.03; <tspan class="i">P</tspan> = 0.38</text>
<rect class="cqb" x="64" y="484" width="233" height="15"/><text class="cq" x="180.5" y="494.5">Chisq = 0.84; CFI = 1; RMSEA = 0; SRMR = 0.006; <tspan class="i">P</tspan> = 0.84</text>
<rect class="cqb" x="317" y="481" width="230" height="14"/><text class="cq" x="432" y="491">Chisq = 0.87; CFI = 1; RMSEA = 0; SRMR = 0.008; <tspan class="i">P</tspan> = 0.93</text>
<rect class="cqb" x="578" y="480" width="231" height="14"/><text class="cq" x="693.5" y="490">Chisq = 0.54; CFI = 1; RMSEA = 0; SRMR = 0.015; <tspan class="i">P</tspan> = 0.76</text>
<rect class="cqb" x="60" y="629" width="243" height="15"/><text class="cq" x="181.5" y="639.5">Chisq = 3.55; CFI = 1; RMSEA = 0.009; SRMR = 0.01; <tspan class="i">P</tspan> = 0.31</text>
<rect class="cqb" x="320" y="629" width="234" height="15"/><text class="cq" x="437" y="639.5">Chisq = 1.46; CFI = 1; RMSEA = 0; SRMR = 0.008; <tspan class="i">P</tspan> = 0.48</text>
<rect class="cqb" x="573" y="631" width="240" height="15"/><text class="cq" x="693" y="641.5">Chisq = 0.97; CFI = 1; RMSEA = 0; SRMR = 0.018; <tspan class="i">P</tspan> = 0.62</text>
<rect class="cqb" x="58" y="789" width="247" height="14"/><text class="cq" x="181.5" y="799">Chisq = 1.86; CFI = 1; RMSEA = 0.02; SRMR = 0.004; <tspan class="i">P</tspan> = 0.17</text>
<rect class="cqb" x="314" y="785" width="234" height="15"/><text class="cq" x="431" y="795.5">Chisq = 0.20; CFI = 1; RMSEA = 0; SRMR = 0.004; <tspan class="i">P</tspan> = 0.65</text>
<rect class="cqb" x="571" y="763" width="235" height="15"/><text class="cq" x="688.5" y="773.5">Chisq = 0.83; CFI = 1; RMSEA = 0; SRMR = 0.029; <tspan class="i">P</tspan> = 0.66</text>
<rect class="cqb" x="58" y="945" width="234" height="15"/><text class="cq" x="175" y="955.5">Chisq = 0.16; CFI = 1; RMSEA = 0; SRMR = 0.002; <tspan class="i">P</tspan> = 0.69</text>
<rect class="cqb" x="316" y="944" width="241" height="14"/><text class="cq" x="436.5" y="954">Chisq = 1.02; CFI = 1; RMSEA = 0.005; SRMR = 0.008; <tspan class="i">P</tspan> = 0.31</text>
<rect class="cqb" x="576" y="945" width="233" height="15"/><text class="cq" x="692.5" y="955.5">Chisq = 0.04; CFI = 1; RMSEA = 0; SRMR = 0.003; <tspan class="i">P</tspan> = 0.98</text>
<rect class="cqb" x="62" y="1104" width="234" height="16"/><text class="cq" x="179" y="1115">Chisq = 0.68; CFI = 1; RMSEA = 0; SRMR = 0.002; <tspan class="i">P</tspan> = 0.71</text>
<rect class="cqb" x="316" y="1104" width="241" height="16"/><text class="cq" x="436.5" y="1115">Chisq = 2.10; CFI = 1; RMSEA = 0.006; SRMR = 0.007; <tspan class="i">P</tspan> = 0.35</text>
<rect class="cqb" x="576" y="1104" width="233" height="16"/><text class="cq" x="692.5" y="1115">Chisq = 0.67; CFI = 1; RMSEA = 0; SRMR = 0.013; <tspan class="i">P</tspan> = 0.88</text>
</g>
</svg>
